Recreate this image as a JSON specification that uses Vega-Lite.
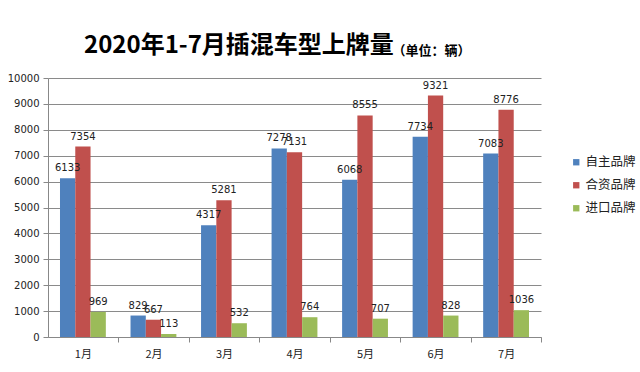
{
  "$schema": "https://vega.github.io/schema/vega-lite/v6.json",
  "width": 493,
  "height": 259,
  "autosize": "none",
  "padding": {"left": 48, "top": 78, "right": 99, "bottom": 35},
  "background": "white",
  "title": {
    "text": "2020年1-7月插混车型上牌量",
    "anchor": "start",
    "frame": "group",
    "dx": 36,
    "offset": -33,
    "font": "Noto Sans CJK SC",
    "fontSize": 24,
    "fontWeight": "bold",
    "color": "#000000",
    "baseline": "alphabetic"
  },
  "data": {
    "values": [
      {"month": "1月", "brand": "自主品牌", "value": 6133},
      {"month": "1月", "brand": "合资品牌", "value": 7354},
      {"month": "1月", "brand": "进口品牌", "value": 969},
      {"month": "2月", "brand": "自主品牌", "value": 829},
      {"month": "2月", "brand": "合资品牌", "value": 667},
      {"month": "2月", "brand": "进口品牌", "value": 113},
      {"month": "3月", "brand": "自主品牌", "value": 4317},
      {"month": "3月", "brand": "合资品牌", "value": 5281},
      {"month": "3月", "brand": "进口品牌", "value": 532},
      {"month": "4月", "brand": "自主品牌", "value": 7278},
      {"month": "4月", "brand": "合资品牌", "value": 7131},
      {"month": "4月", "brand": "进口品牌", "value": 764},
      {"month": "5月", "brand": "自主品牌", "value": 6068},
      {"month": "5月", "brand": "合资品牌", "value": 8555},
      {"month": "5月", "brand": "进口品牌", "value": 707},
      {"month": "6月", "brand": "自主品牌", "value": 7734},
      {"month": "6月", "brand": "合资品牌", "value": 9321},
      {"month": "6月", "brand": "进口品牌", "value": 828},
      {"month": "7月", "brand": "自主品牌", "value": 7083},
      {"month": "7月", "brand": "合资品牌", "value": 8776},
      {"month": "7月", "brand": "进口品牌", "value": 1036}
    ]
  },
  "encoding": {
    "x": {
      "field": "month",
      "type": "nominal",
      "sort": null,
      "scale": {"paddingInner": 0.35, "paddingOuter": 0.17},
      "axis": {
        "title": null,
        "labelAngle": 0,
        "labelFont": "Noto Sans CJK SC",
        "labelFontSize": 11,
        "labelColor": "#222222",
        "labelPadding": 6,
        "domainColor": "#888888",
        "tickColor": "#888888",
        "tickSize": 5,
        "bandPosition": 0.5,
        "tickOffset": 35.2,
        "labelOffset": -35.2,
        "grid": false
      }
    },
    "xOffset": {
      "field": "brand",
      "type": "nominal",
      "sort": ["自主品牌", "合资品牌", "进口品牌"],
      "scale": {"paddingInner": 0, "paddingOuter": 0}
    },
    "y": {
      "field": "value",
      "type": "quantitative",
      "scale": {"domain": [0, 10000], "nice": false},
      "axis": {
        "title": "（单位：辆）",
        "titleAngle": 0,
        "titleX": 344,
        "titleY": -24,
        "titleAlign": "left",
        "titleBaseline": "alphabetic",
        "titleFont": "Noto Sans CJK SC",
        "titleFontSize": 13,
        "titleFontWeight": "bold",
        "titleColor": "#000000",
        "values": [0, 1000, 2000, 3000, 4000, 5000, 6000, 7000, 8000, 9000, 10000],
        "format": "d",
        "labelFont": "DejaVu Sans",
        "labelFontSize": 10,
        "labelColor": "#222222",
        "labelPadding": 4,
        "domainColor": "#888888",
        "tickColor": "#888888",
        "tickSize": 5,
        "gridColor": "#8a8a8a",
        "gridWidth": 1
      }
    }
  },
  "layer": [
    {
      "mark": {"type": "bar"},
      "encoding": {
        "color": {
          "field": "brand",
          "type": "nominal",
          "scale": {
            "domain": ["自主品牌", "合资品牌", "进口品牌"],
            "range": ["#4F81BD", "#C0504D", "#9BBB59"]
          },
          "legend": {
            "title": null,
            "orient": "none",
            "legendX": 522,
            "legendY": 78,
            "symbolType": "square",
            "symbolSize": 40,
            "symbolStrokeWidth": 0,
            "labelFont": "Noto Sans CJK SC",
            "labelFontSize": 12.5,
            "labelColor": "#222222",
            "labelOffset": 3,
            "rowPadding": 10
          }
        }
      }
    },
    {
      "mark": {
        "type": "text",
        "baseline": "middle",
        "dy": -10,
        "font": "DejaVu Sans",
        "fontSize": 10,
        "color": "#222222"
      },
      "encoding": {
        "text": {"field": "value", "type": "quantitative", "format": "d"}
      }
    }
  ],
  "config": {
    "view": {"stroke": null}
  }
}
